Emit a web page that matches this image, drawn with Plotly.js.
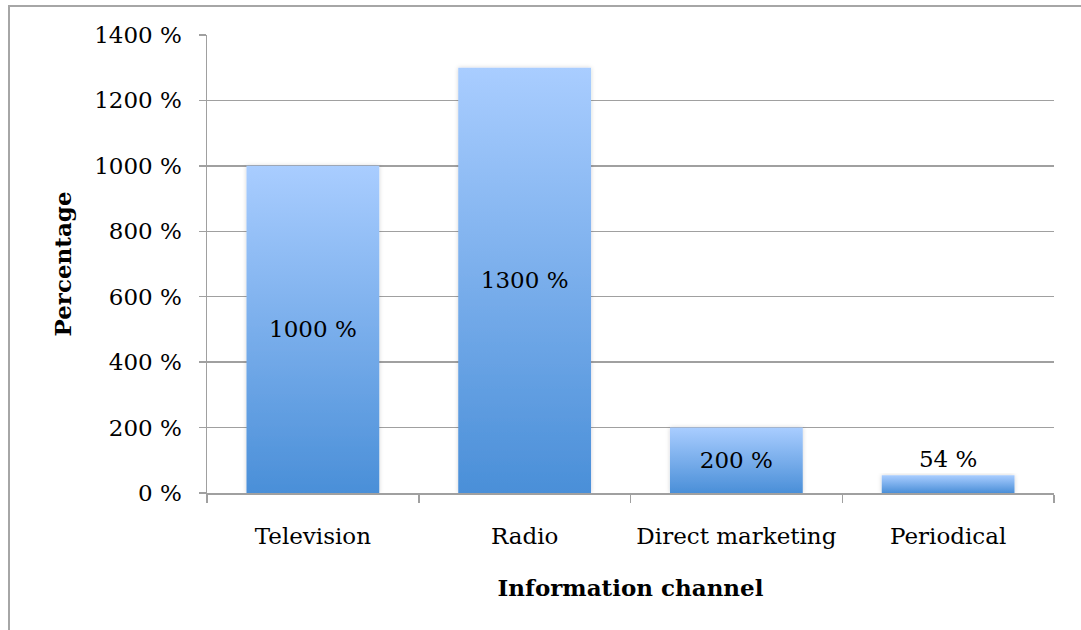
<!DOCTYPE html>
<html>
<head>
<meta charset="utf-8">
<script src="https://cdn.plot.ly/plotly-3.0.1.min.js"></script>
<style>
  html, body { margin: 0; padding: 0; background: #fff; }
  #wrap { position: relative; width: 1081px; height: 630px; overflow: hidden; }
  #chart { position: absolute; left: 0; top: 0; width: 1081px; height: 630px; }
  #frame { position: absolute; left: 8px; top: 5px; width: 1090px; height: 700px;
           border: 2px solid #a6a6a6; box-sizing: border-box; pointer-events: none; }
</style>
</head>
<body>
<div id="wrap">
  <div id="chart"></div>
  <div id="frame"></div>
</div>
<script>
const categories = ["Television", "Radio", "Direct marketing", "Periodical"];
const values = [1000, 1300, 200, 54];
const yTickVals = [0, 200, 400, 600, 800, 1000, 1200, 1400];

const FONT = "DejaVu Serif, Liberation Serif, serif";
const FS = 23;

const trace = {
  type: "bar",
  x: categories,
  y: values,
  text: values.map(v => v + " %"),
  texttemplate: "%{text}",
  marker: { color: "#78aeea", line: { width: 0 } },
  textposition: "auto",
  insidetextanchor: "middle",
  constraintext: "none",
  textfont: { family: FONT, size: FS, color: "#000" },
  insidetextfont: { family: FONT, size: FS, color: "#000" },
  outsidetextfont: { family: FONT, size: FS, color: "#000" },
  cliponaxis: false,
  hoverinfo: "none"
};

const layout = {
  width: 1081, height: 630,
  margin: { l: 207, r: 27, t: 35, b: 137 },
  paper_bgcolor: "rgba(0,0,0,0)",
  plot_bgcolor: "rgba(0,0,0,0)",
  bargap: 0.373,
  showlegend: false,
  font: { family: FONT, size: FS, color: "#000" },
  xaxis: {
    type: "category",
    tickson: "boundaries",
    ticks: "outside",
    ticklen: 8,
    tickcolor: "#a0a0a0",
    tickwidth: 1.5,
    ticklabelstandoff: 22,
    showline: true,
    linecolor: "#a0a0a0",
    linewidth: 1.5,
    showgrid: false,
    tickfont: { family: FONT, size: FS, color: "#000" },
    title: { text: "<b>Information channel</b>", font: { family: FONT, size: FS, color: "#000" }, standoff: 32 },
    automargin: false
  },
  yaxis: {
    range: [0, 1400],
    tickvals: yTickVals,
    ticktext: yTickVals.map(v => v + " %"),
    ticks: "outside",
    ticklen: 7,
    tickcolor: "#a0a0a0",
    tickwidth: 1.5,
    ticklabelstandoff: 12,
    showline: true,
    linecolor: "#a0a0a0",
    linewidth: 1.5,
    showgrid: true,
    gridcolor: "#a0a0a0",
    gridwidth: 1.5,
    zeroline: false,
    tickfont: { family: FONT, size: FS, color: "#000" },
    title: { text: "<b>Percentage</b>", font: { family: FONT, size: FS, color: "#000" }, standoff: 16 },
    automargin: false
  }
};

Plotly.newPlot("chart", [trace], layout, { staticPlot: true, displayModeBar: false }).then(gd => {
  const svg = gd.querySelector("svg.main-svg");
  const NS = "http://www.w3.org/2000/svg";
  let defs = svg.querySelector("defs");
  if (!defs) { defs = document.createElementNS(NS, "defs"); svg.insertBefore(defs, svg.firstChild); }
  const grad = document.createElementNS(NS, "linearGradient");
  grad.setAttribute("id", "barGrad");
  grad.setAttribute("x1", "0"); grad.setAttribute("y1", "0");
  grad.setAttribute("x2", "0"); grad.setAttribute("y2", "1");
  [["0%", "#a9cdff"], ["100%", "#4a8fd8"]].forEach(([o, c]) => {
    const s = document.createElementNS(NS, "stop");
    s.setAttribute("offset", o); s.setAttribute("stop-color", c);
    grad.appendChild(s);
  });
  defs.appendChild(grad);
  const filt = document.createElementNS(NS, "filter");
  filt.setAttribute("id", "barShadow");
  filt.setAttribute("x", "-10%"); filt.setAttribute("y", "-10%");
  filt.setAttribute("width", "120%"); filt.setAttribute("height", "120%");
  const ds = document.createElementNS(NS, "feDropShadow");
  ds.setAttribute("dx", "0"); ds.setAttribute("dy", "0");
  ds.setAttribute("stdDeviation", "2"); ds.setAttribute("flood-color", "#000");
  ds.setAttribute("flood-opacity", "0.18");
  filt.appendChild(ds);
  defs.appendChild(filt);
  gd.querySelectorAll(".trace.bars .point path").forEach(p => {
    p.style.fill = "url(#barGrad)";
    p.setAttribute("filter", "url(#barShadow)");
  });
});
</script>
</body>
</html>
